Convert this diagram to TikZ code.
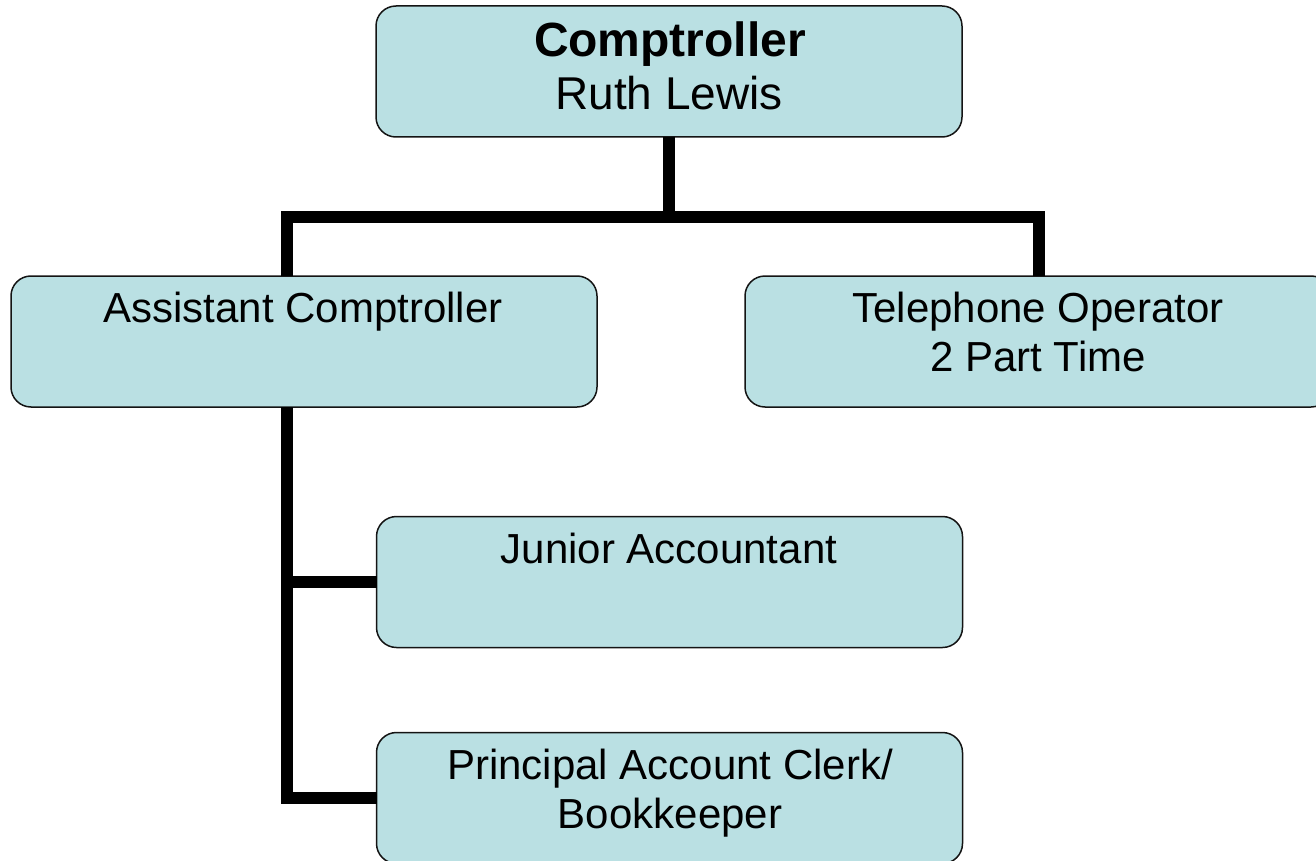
\documentclass[tikz,border=0pt]{standalone}
\usepackage{fontspec}
\setmainfont{Liberation Sans}
\definecolor{boxfill}{RGB}{186,224,227}
\definecolor{boxline}{RGB}{20,20,20}
\begin{document}
\begin{tikzpicture}[x=1pt,y=-1pt,
  orgbox/.style={draw=boxline, line width=1.5pt, fill=boxfill, rounded corners=20pt,
    minimum width=586pt, minimum height=131pt, inner sep=0pt, outer sep=0pt},
  conn/.style={draw=black, line width=12pt, line join=miter},
  lbl/.style={anchor=base, inner sep=0pt, outer sep=0pt, font=\fontsize{42}{48}\selectfont},
  biglbl/.style={anchor=base, inner sep=0pt, outer sep=0pt, font=\fontsize{46}{53}\selectfont}]
\useasboundingbox (0,0) rectangle (1316,861);
\clip (0,0) rectangle (1316,861);
% boxes
\node[orgbox] (comp) at (669,71.5) {};
\node[orgbox] (asst) at (304,341.5) {};
\node[orgbox] (tel) at (1038,341.5) {};
\node[orgbox] (jun) at (669.5,582) {};
\node[orgbox] (prin) at (669.5,798) {};
% connector points
\coordinate (busM) at (669,217);
\coordinate (busL) at (287,217);
\coordinate (busR) at (1039,217);
% connectors
\draw[conn] (comp.south) -- (busM);
\draw[conn] (asst.north -| busL) -- (busL) -- (busR) -- (tel.north -| busR);
\draw[conn] (asst.south -| busL) -- (busL |- prin.west) -- (prin.west);
\draw[conn] ([xshift=-6pt]busL |- jun.west) -- (jun.west);
% labels
\node[biglbl, font=\fontsize{48}{53}\selectfont\bfseries] (compT) at (670,57) {Comptroller};
\node[biglbl] (compN) at (669,110) {Ruth Lewis};
\node[lbl] (asstT) at (303,322) {Assistant Comptroller};
\node[lbl] (telT) at (1038,322) {Telephone Operator};
\node[lbl] (telN) at (1038,371) {2 Part Time};
\node[lbl] (junT) at (669,563) {Junior Accountant};
\node[lbl] (prinT) at (670,779) {Principal Account Clerk/};
\node[lbl] (prinN) at (670,828) {Bookkeeper};
\end{tikzpicture}
\end{document}
